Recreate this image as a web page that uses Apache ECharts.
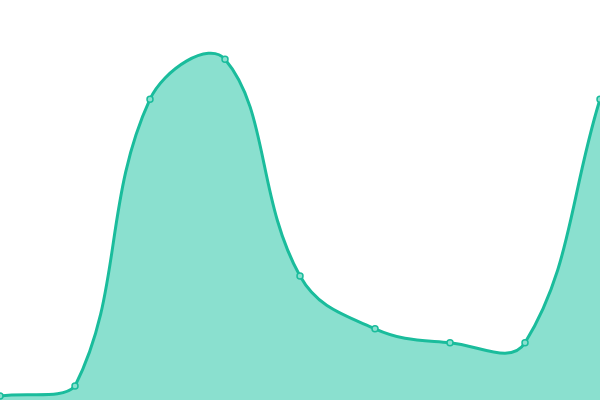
<!DOCTYPE html>
<html>
<head>
<meta charset="utf-8">
<script src="https://cdn.jsdelivr.net/npm/echarts@6/dist/echarts.min.js"></script>
<style>
	html, body {margin: 0; padding: 0; background: #fff;}
	#chart {width: 600px; height: 400px;}
</style>
</head>
<body>
<div id="chart"></div>
<script>
	var categories = ['1', '2', '3', '4', '5', '6', '7', '8', '9'];
	var values = [1, 3.5, 75.2, 85.2, 31, 17.8, 14.3, 14.3, 75.2];

	var TENSION = 0.4;

	function clamp(v, lo, hi) {
		return Math.max(lo, Math.min(hi, v));
	}

	// cubic spline like the original, control points kept inside the plot area
	function splinePath(pts, area) {
		var d = 'M' + pts[0][0] + ',' + pts[0][1];
		var cps = [];
		for (var i = 0; i < pts.length; i++) {
			var prev = pts[i - 1] || pts[i];
			var cur = pts[i];
			var next = pts[i + 1] || pts[i];
			var d01 = Math.sqrt(Math.pow(cur[0] - prev[0], 2) + Math.pow(cur[1] - prev[1], 2));
			var d12 = Math.sqrt(Math.pow(next[0] - cur[0], 2) + Math.pow(next[1] - cur[1], 2));
			var s01 = d01 / (d01 + d12) || 0;
			var s12 = d12 / (d01 + d12) || 0;
			var fa = TENSION * s01;
			var fb = TENSION * s12;
			var cp0 = [cur[0] - fa * (next[0] - prev[0]), cur[1] - fa * (next[1] - prev[1])];
			var cp1 = [cur[0] + fb * (next[0] - prev[0]), cur[1] + fb * (next[1] - prev[1])];
			cps.push({
				prev: [clamp(cp0[0], area.x, area.x + area.width), clamp(cp0[1], area.y, area.y + area.height)],
				next: [clamp(cp1[0], area.x, area.x + area.width), clamp(cp1[1], area.y, area.y + area.height)]
			});
		}
		for (var j = 1; j < pts.length; j++) {
			var a = cps[j - 1].next;
			var b = cps[j].prev;
			d += ' C' + a[0] + ',' + a[1] + ' ' + b[0] + ',' + b[1] + ' ' + pts[j][0] + ',' + pts[j][1];
		}
		return d;
	}

	function renderItem(params, api) {
		var p = api.coord([api.value(0), api.value(1)]);
		var children = [];
		if (params.dataIndex === 0) {
			var pts = values.map(function (v, i) {
				return api.coord([i, v]);
			});
			var bottom = api.coord([0, 0])[1];
			var line = splinePath(pts, params.coordSys);
			var area = line + ' L' + pts[pts.length - 1][0] + ',' + bottom + ' L' + pts[0][0] + ',' + bottom + ' Z';
			children.push({
				type: 'path',
				shape: {pathData: area},
				style: {fill: '#8ae0cf', stroke: null}
			});
			children.push({
				type: 'path',
				shape: {pathData: line},
				style: {fill: null, stroke: '#1abc9c', lineWidth: 3}
			});
		}
		children.push({
			type: 'circle',
			shape: {cx: p[0], cy: p[1], r: 3},
			style: {fill: '#8ae0cf', stroke: '#1abc9c', lineWidth: 1.5}
		});
		return {type: 'group', children: children};
	}

	var chart = echarts.init(document.getElementById('chart'));
	chart.setOption({
		animation: false,
		grid: {
			left: 0,
			right: 0,
			top: 0,
			bottom: 0
		},
		xAxis: {
			type: 'category',
			boundaryGap: false,
			show: false,
			data: categories
		},
		yAxis: {
			type: 'value',
			min: 0,
			max: 100,
			show: false
		},
		series: [
			{
				type: 'custom',
				renderItem: renderItem,
				clip: false,
				data: values.map(function (v, i) {
					return [i, v];
				})
			}
		]
	});
</script>
</body>
</html>
